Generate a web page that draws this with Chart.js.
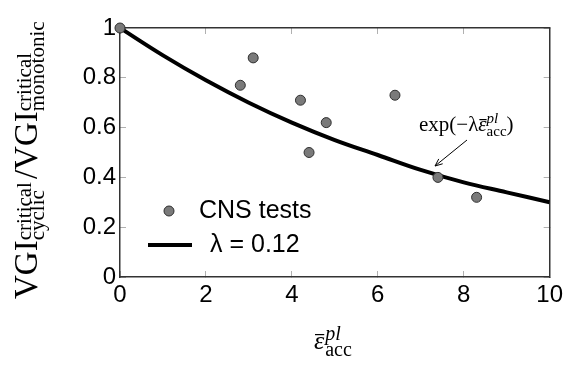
<!DOCTYPE html>
<html>
<head>
<meta charset="utf-8">
<script src="https://cdn.jsdelivr.net/npm/chart.js@4"></script>
<style>
  html, body { margin: 0; padding: 0; background: #fff; }
</style>
</head>
<body>
<canvas id="chart" width="573" height="373"></canvas>
<script>
// measured CNS tests
const testX = [0, 2.8, 3.1, 4.2, 4.4, 4.8, 6.4, 7.4, 8.3];
const testY = [1, 0.77, 0.88, 0.71, 0.50, 0.62, 0.73, 0.40, 0.32];

// fitted curve, lambda = 0.12
const fitX = [0, 1, 2, 3, 4, 5, 6, 7, 8, 9, 10];
const fitY = [1, 0.89, 0.79, 0.70, 0.62, 0.55, 0.49, 0.43, 0.38, 0.34, 0.30];

const xTicks = [0, 2, 4, 6, 8, 10];
const yTicks = [0, 0.2, 0.4, 0.6, 0.8, 1];

const SERIF = '"Liberation Serif", "DejaVu Serif", serif';
const SANS = '"Liberation Sans", Arial, sans-serif';

// draws text pieces left to right from the current origin (baseline)
// a piece is either plain text {t, font} or a stacked {sup, sub}
function drawRich(ctx, pieces) {
    let x = 0;
    pieces.forEach(p => {
        let w = 0;
        if (p.sup || p.sub) {
            if (p.sup) {
                ctx.font = p.supFont || p.font;
                ctx.fillText(p.sup, x, -p.up);
                w = ctx.measureText(p.sup).width;
            }
            if (p.sub) {
                ctx.font = p.subFont || p.font;
                ctx.fillText(p.sub, x, p.down);
                w = Math.max(w, ctx.measureText(p.sub).width);
            }
        } else {
            ctx.font = p.font;
            ctx.fillText(p.t, x, 0);
            w = ctx.measureText(p.t).width;
            if (p.bar) ctx.fillRect(x + 1, p.bar, w - 1, 1.2);
        }
        x += w + (p.gap || 0);
    });
    return x;
}

const decor = {
    id: 'decor',
    afterDraw(chart) {
        const ctx = chart.ctx;
        ctx.save();
        ctx.fillStyle = '#000';
        ctx.textBaseline = 'alphabetic';
        ctx.textAlign = 'left';

        // y axis title, rotated
        ctx.save();
        ctx.translate(37, 299);
        ctx.rotate(-Math.PI / 2);
        drawRich(ctx, [
            { t: 'VGI', font: '33px ' + SERIF },
            { sup: 'critical', sub: 'cyclic', font: '21px ' + SERIF, up: 6, down: 7, gap: 3 },
            { t: '/VGI', font: '33px ' + SERIF },
            { sup: 'critical', sub: 'monotonic', font: '21px ' + SERIF, up: 6, down: 7 }
        ]);
        ctx.restore();

        // x axis title
        ctx.save();
        ctx.translate(314, 349);
        drawRich(ctx, [
            { t: 'ε', font: 'italic 26px ' + SERIF, bar: -15, gap: 1 },
            { sup: 'pl', sub: 'acc', supFont: 'italic 20px ' + SERIF, subFont: '20px ' + SERIF, up: 9, down: 7 }
        ]);
        ctx.restore();

        // annotation of the curve
        ctx.save();
        ctx.translate(419, 131);
        drawRich(ctx, [
            { t: 'exp(−λ', font: '21px ' + SERIF },
            { t: 'ε', font: 'italic 21px ' + SERIF, bar: -12 },
            { sup: 'pl', sub: 'acc', supFont: 'italic 15px ' + SERIF, subFont: '15px ' + SERIF, up: 8, down: 5 },
            { t: ')', font: '21px ' + SERIF }
        ]);
        ctx.restore();

        const x1 = 467, y1 = 140, x2 = 435, y2 = 166;
        ctx.strokeStyle = '#000';
        ctx.lineWidth = 1;
        ctx.beginPath();
        ctx.moveTo(x1, y1); ctx.lineTo(x2, y2);
        ctx.stroke();
        const ang = Math.atan2(y2 - y1, x2 - x1);
        ctx.beginPath();
        ctx.moveTo(x2 - 8 * Math.cos(ang - 0.4), y2 - 8 * Math.sin(ang - 0.4));
        ctx.lineTo(x2, y2);
        ctx.lineTo(x2 - 8 * Math.cos(ang + 0.4), y2 - 8 * Math.sin(ang + 0.4));
        ctx.stroke();

        // legend, inside the plot
        const pts = chart.data.datasets[0];
        const fit = chart.data.datasets[1];
        ctx.beginPath();
        ctx.arc(169, 211, 5, 0, Math.PI * 2);
        ctx.fillStyle = pts.backgroundColor;
        ctx.fill();
        ctx.strokeStyle = pts.borderColor;
        ctx.lineWidth = 1;
        ctx.stroke();

        ctx.fillStyle = '#000';
        ctx.font = '25px ' + SANS;
        ctx.textBaseline = 'middle';
        ctx.fillText(pts.label, 199, 211);

        ctx.strokeStyle = fit.borderColor;
        ctx.lineWidth = fit.borderWidth;
        ctx.beginPath();
        ctx.moveTo(148, 245); ctx.lineTo(192, 245);
        ctx.stroke();
        ctx.fillText(fit.label, 210, 245);

        ctx.restore();
    }
};

// box and inward tick marks come from the axes themselves
const boxGrid = { display: true, drawOnChartArea: false, drawTicks: true, tickLength: -6, color: '#b0b0b0', lineWidth: 1 };
const boxBorder = { display: true, color: '#333', width: 1.5 };

new Chart(document.getElementById('chart'), {
    type: 'scatter',
    data: {
        datasets: [
            {
                label: 'CNS tests',
                data: testX.map((x, i) => ({ x: x, y: testY[i] })),
                backgroundColor: '#7a7a7a',
                borderColor: '#2e2e2e',
                borderWidth: 1,
                pointRadius: 5,
                clip: false,
                order: 0
            },
            {
                label: 'λ = 0.12',
                type: 'line',
                data: fitX.map((x, i) => ({ x: x, y: fitY[i] })),
                borderColor: '#000',
                borderWidth: 4,
                pointRadius: 0,
                tension: 0.4,
                fill: false,
                order: 1
            }
        ]
    },
    options: {
        responsive: false,
        animation: false,
        layout: { padding: { top: 28, right: 19, left: 0, bottom: 0 } },
        plugins: { legend: { display: false }, tooltip: { enabled: false } },
        scales: {
            x: {
                type: 'linear',
                position: 'bottom',
                min: 0, max: 10,
                afterBuildTicks: s => { s.ticks = xTicks.map(v => ({ value: v })); },
                afterFit: s => { s.height = 96; },
                grid: boxGrid,
                border: boxBorder,
                ticks: {
                    color: '#000',
                    font: { family: SANS, size: 24 },
                    padding: 10,
                    maxRotation: 0,
                    callback: v => String(v)
                }
            },
            x2: {
                type: 'linear',
                position: 'top',
                min: 0, max: 10,
                afterBuildTicks: s => { s.ticks = xTicks.map(v => ({ value: v })); },
                afterFit: s => { s.height = 0; },
                grid: boxGrid,
                border: boxBorder,
                ticks: { display: false }
            },
            y: {
                type: 'linear',
                position: 'left',
                min: 0, max: 1,
                afterBuildTicks: s => { s.ticks = yTicks.map(v => ({ value: v })); },
                afterFit: s => { s.width = 120; },
                grid: boxGrid,
                border: boxBorder,
                ticks: {
                    color: '#000',
                    font: { family: SANS, size: 24 },
                    padding: 10,
                    callback: v => String(+v.toFixed(1))
                }
            },
            y2: {
                type: 'linear',
                position: 'right',
                min: 0, max: 1,
                afterBuildTicks: s => { s.ticks = yTicks.map(v => ({ value: v })); },
                afterFit: s => { s.width = 0; },
                grid: boxGrid,
                border: boxBorder,
                ticks: { display: false }
            }
        }
    },
    plugins: [decor]
});
</script>
</body>
</html>
